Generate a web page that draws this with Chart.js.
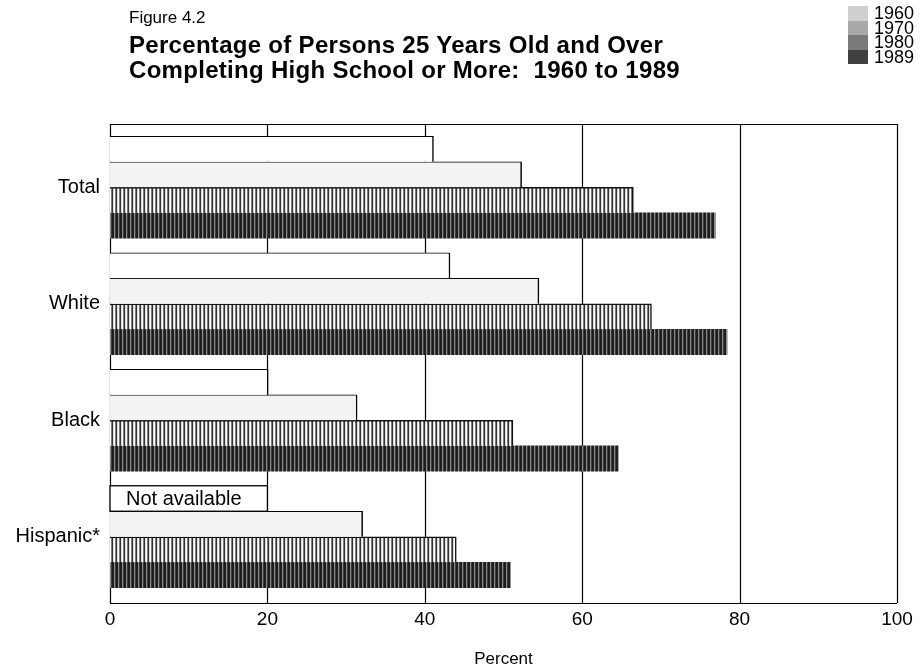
<!DOCTYPE html>
<html>
<head>
<meta charset="utf-8">
<script src="https://cdn.jsdelivr.net/npm/chart.js@4.4.1/dist/chart.umd.min.js"></script>
<style>
  body { margin: 0; background: #fff; }
  #wrap { position: relative; width: 920px; height: 666px; font-family: "Liberation Sans", Arial, sans-serif; color: #000; }
  #chart { position: absolute; left: 0; top: 0; }
  #fig { position: absolute; left: 129px; top: 8px; font-size: 17px; }
  #ttl { position: absolute; left: 129px; top: 32px; font-size: 24px; letter-spacing: 0.3px; font-weight: bold; line-height: 25px; white-space: nowrap; }
  #legend { position: absolute; left: 848px; top: 6px; }
  .row { display: flex; align-items: center; height: 14.5px; }
  .sw { width: 20px; height: 14.5px; }
  .lab { margin-left: 6px; font-size: 18px; line-height: 14px; }
</style>
</head>
<body>
<div id="wrap">
  <canvas id="chart" width="920" height="666"></canvas>
  <div id="fig">Figure 4.2</div>
  <div id="ttl">Percentage of Persons 25 Years Old and Over<br>Completing High School or More:&nbsp; 1960 to 1989</div>
  <div id="legend"></div>
</div>
<script>
// data
const categories = ['Total', 'White', 'Black', 'Hispanic*'];
const years = ['1960', '1970', '1980', '1989'];
const pct1960 = [41.1, 43.2, 20.1, null];
const pct1970 = [52.3, 54.5, 31.4, 32.1];
const pct1980 = [66.5, 68.8, 51.2, 44.0];
const pct1989 = [76.9, 78.4, 64.6, 50.9];
const xTicks = [0, 20, 40, 60, 80, 100];

// striped fills to imitate the halftone screens
function stripes(cols) {
  const c = document.createElement('canvas');
  c.width = cols.length;
  c.height = 4;
  const g = c.getContext('2d');
  cols.forEach((col, i) => { g.fillStyle = col; g.fillRect(i, 0, 1, 4); });
  return g.createPattern(c, 'repeat');
}

const ctx = document.getElementById('chart').getContext('2d');
const fill1980 = stripes(['#333333', '#dcdcdc', '#ffffff', '#7a7a7a']);
const fill1989 = stripes(['#1e1e1e', '#1e1e1e', '#8c8c8c', '#3c3c3c']);

// legend swatches (as printed)
const legendColors = ['#cfcfcf', '#a9a9a9', '#7a7a7a', '#404040'];
const legend = document.getElementById('legend');
years.forEach((y, i) => {
  legend.innerHTML += '<div class="row"><div class="sw" style="background:' + legendColors[i] + '"></div><div class="lab">' + y + '</div></div>';
});

// frame + gridlines, a bit taller than the bar area like the original
const framePlugin = {
  id: 'frame',
  beforeDatasetsDraw(chart) {
    const { ctx, chartArea, scales: { x } } = chart;
    const top = chartArea.top - 5, bottom = chartArea.bottom + 8;
    ctx.save();
    ctx.strokeStyle = '#000';
    ctx.lineWidth = 1.2;
    xTicks.forEach(v => {
      const px = Math.round(x.getPixelForValue(v)) + 0.5;
      ctx.beginPath();
      ctx.moveTo(px, top);
      ctx.lineTo(px, bottom);
      ctx.stroke();
    });
    ctx.beginPath();
    ctx.moveTo(x.getPixelForValue(0), top + 0.5);
    ctx.lineTo(x.getPixelForValue(100), top + 0.5);
    ctx.moveTo(x.getPixelForValue(0), bottom + 0.5);
    ctx.lineTo(x.getPixelForValue(100), bottom + 0.5);
    ctx.stroke();
    ctx.restore();
  },
  afterDatasetsDraw(chart) {
    const { ctx, scales: { x } } = chart;
    const el = chart.getDatasetMeta(0).data[3];
    const h = 25.5;
    const left = x.getPixelForValue(0);
    const w = x.getPixelForValue(20) - left;
    ctx.save();
    ctx.fillStyle = '#fff';
    ctx.fillRect(left, el.y - h / 2, w, h);
    ctx.strokeStyle = '#000';
    ctx.lineWidth = 1.3;
    ctx.strokeRect(left, el.y - h / 2, w, h);
    ctx.fillStyle = '#000';
    ctx.font = '20px "Liberation Sans", Arial, sans-serif';
    ctx.textBaseline = 'middle';
    ctx.fillText('Not available', left + 16, el.y + 1);
    ctx.restore();
  }
};

new Chart(ctx, {
  type: 'bar',
  data: {
    labels: categories,
    datasets: [
      { label: years[0], data: pct1960, backgroundColor: '#ffffff', borderColor: '#000', borderWidth: { top: 1.2, right: 1.5, bottom: 0, left: 0 } },
      { label: years[1], data: pct1970, backgroundColor: '#f3f3f3', borderColor: '#000', borderWidth: { top: 1.2, right: 1.5, bottom: 0, left: 0 } },
      { label: years[2], data: pct1980, backgroundColor: fill1980, borderColor: '#111', borderWidth: { top: 1.5, right: 1.5, bottom: 0, left: 0 } },
      { label: years[3], data: pct1989, backgroundColor: fill1989, borderColor: '#111', borderWidth: 0 }
    ]
  },
  options: {
    indexAxis: 'y',
    responsive: false,
    animation: false,
    barThickness: 25.5,
    layout: { padding: { top: 129, right: 23, left: 0, bottom: 0 } },
    plugins: {
      legend: { display: false },
      title: { display: false },
      tooltip: { enabled: false }
    },
    scales: {
      y: {
        offset: true,
        grid: { display: false, drawTicks: false },
        border: { display: false },
        ticks: { color: '#000', padding: 10, font: { family: '"Liberation Sans", Arial, sans-serif', size: 20 } },
        afterFit(scale) { scale.width = 110; }
      },
      x: {
        min: 0,
        max: 100,
        grid: { display: false, drawTicks: false },
        border: { display: false },
        ticks: { stepSize: 20, color: '#000', padding: 13, font: { family: '"Liberation Sans", Arial, sans-serif', size: 19 } },
        title: { display: true, text: 'Percent', color: '#000', padding: { top: 0, bottom: 0 }, font: { family: '"Liberation Sans", Arial, sans-serif', size: 17, lineHeight: 0.75 } },
        afterFit(scale) {
          scale.height = 71;
          // keep the "100" label half-width from eating into the plot
          scale.paddingRight = 0;
        }
      }
    }
  },
  plugins: [framePlugin]
});
</script>
</body>
</html>
